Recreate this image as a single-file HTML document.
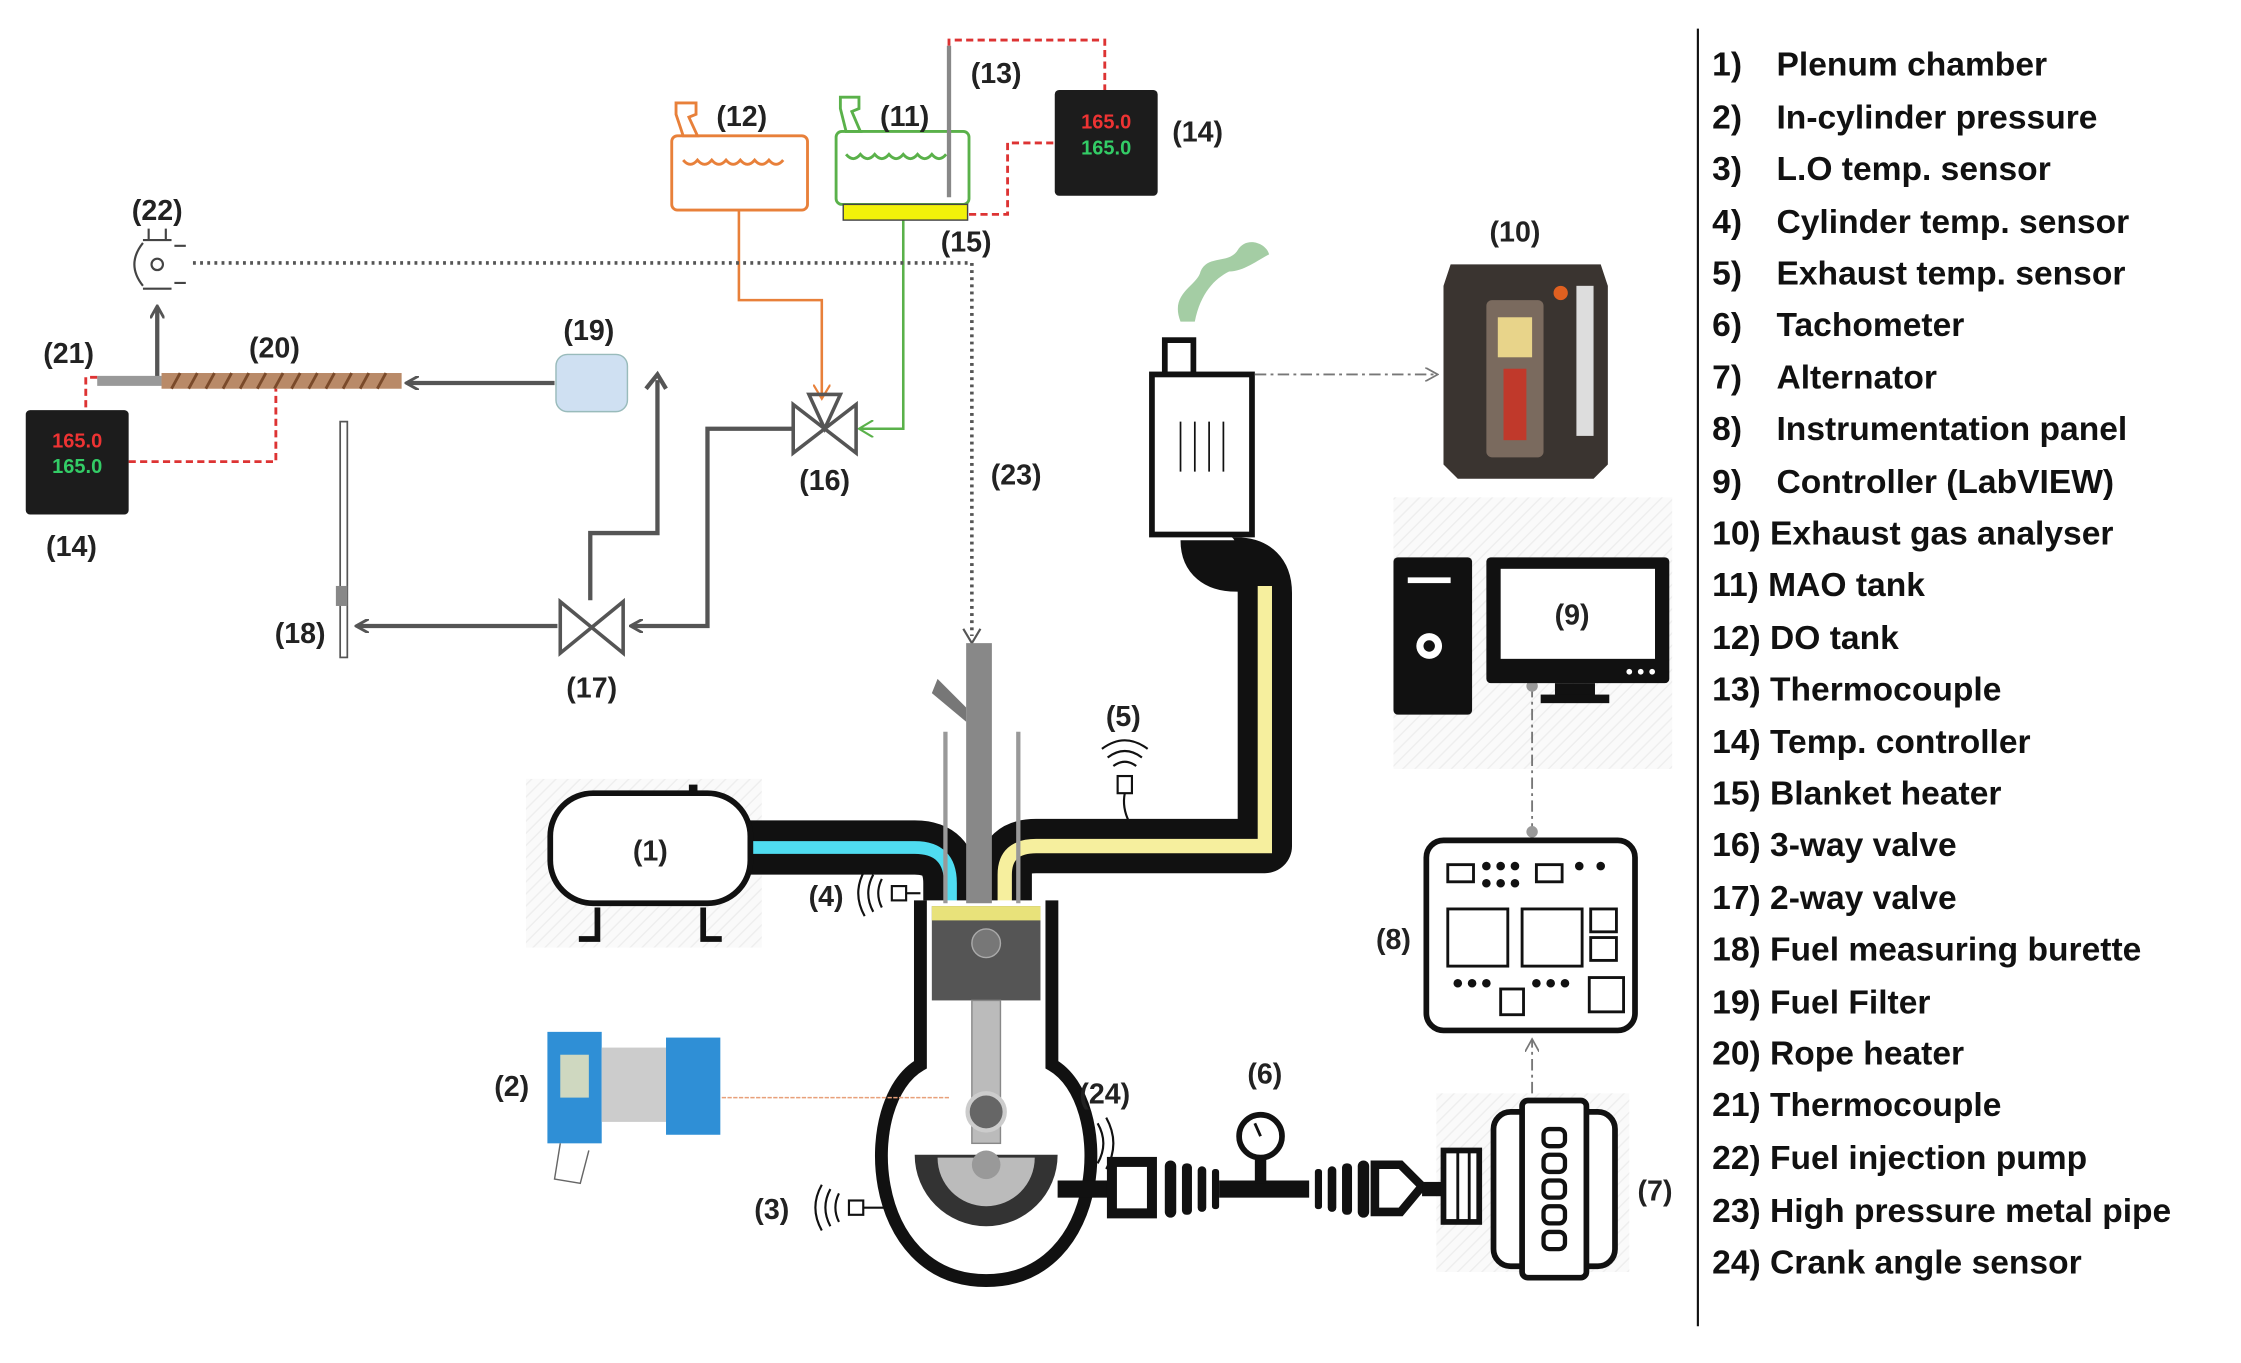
<!DOCTYPE html>
<html><head><meta charset="utf-8"><style>
html,body{margin:0;padding:0;background:#fff;}
svg{display:block;}
text{font-family:"Liberation Sans",sans-serif;}
</style></head><body>
<svg width="2241" height="1363" viewBox="0 0 1568 953.7" xmlns="http://www.w3.org/2000/svg">
<defs>
<marker id="ag" markerWidth="10" markerHeight="10" refX="8" refY="5" orient="auto" markerUnits="userSpaceOnUse"><path d="M0,0 L9,5 L0,10" fill="none" stroke="#555" stroke-width="2"/></marker>
<marker id="ao" markerWidth="12" markerHeight="12" refX="9" refY="6" orient="auto" markerUnits="userSpaceOnUse"><path d="M0,0 L10,6 L0,12" fill="none" stroke="#e8803a" stroke-width="1.5"/></marker>
<marker id="agr" markerWidth="12" markerHeight="12" refX="9" refY="6" orient="auto" markerUnits="userSpaceOnUse"><path d="M0,0 L10,6 L0,12" fill="none" stroke="#5ab14a" stroke-width="1.5"/></marker>
<marker id="ad" markerWidth="10" markerHeight="10" refX="8" refY="5" orient="auto" markerUnits="userSpaceOnUse"><path d="M0,0 L9,5 L0,10" fill="none" stroke="#777" stroke-width="1.2"/></marker>
<pattern id="hat" width="6" height="6" patternUnits="userSpaceOnUse" patternTransform="rotate(45)"><rect width="6" height="6" fill="#fafafa"/><line x1="0" y1="0" x2="0" y2="6" stroke="#eee" stroke-width="2"/></pattern>
</defs>

<rect x="368" y="545" width="165" height="118" fill="url(#hat)"/>
<rect x="975" y="348" width="195" height="190" fill="url(#hat)"/>
<rect x="1005" y="765" width="135" height="125" fill="url(#hat)"/>

<!-- legend -->
<line x1="1188" y1="20" x2="1188" y2="928" stroke="#111" stroke-width="1.5"/>
<g font-size="23.5" font-weight="bold" fill="#111">
<text x="1198" y="53">1)</text><text x="1243" y="53">Plenum chamber</text>
<text x="1198" y="90">2)</text><text x="1243" y="90">In-cylinder pressure</text>
<text x="1198" y="126">3)</text><text x="1243" y="126">L.O temp. sensor</text>
<text x="1198" y="163">4)</text><text x="1243" y="163">Cylinder temp. sensor</text>
<text x="1198" y="199">5)</text><text x="1243" y="199">Exhaust temp. sensor</text>
<text x="1198" y="235">6)</text><text x="1243" y="235">Tachometer</text>
<text x="1198" y="272">7)</text><text x="1243" y="272">Alternator</text>
<text x="1198" y="308">8)</text><text x="1243" y="308">Instrumentation panel</text>
<text x="1198" y="345">9)</text><text x="1243" y="345">Controller (LabVIEW)</text>
<text x="1198" y="381">10) Exhaust gas analyser</text>
<text x="1198" y="417">11) MAO tank</text>
<text x="1198" y="454">12) DO tank</text>
<text x="1198" y="490">13) Thermocouple</text>
<text x="1198" y="527">14) Temp. controller</text>
<text x="1198" y="563">15) Blanket heater</text>
<text x="1198" y="599">16) 3-way valve</text>
<text x="1198" y="636">17) 2-way valve</text>
<text x="1198" y="672">18) Fuel measuring burette</text>
<text x="1198" y="709">19) Fuel Filter</text>
<text x="1198" y="745">20) Rope heater</text>
<text x="1198" y="781">21) Thermocouple</text>
<text x="1198" y="818">22) Fuel injection pump</text>
<text x="1198" y="855">23) High pressure metal pipe</text>
<text x="1198" y="891">24) Crank angle sensor</text>
</g>

<!-- fuel lines -->
<g stroke="#555" stroke-width="3" fill="none">
<polyline points="555,300 495,300 495,438 442,438" marker-end="url(#ag)"/>
<polyline points="390,438 250,438" marker-end="url(#ag)"/>
<polyline points="413,420 413,373 460,373 460,266"/>
<path d="M452,272 L460,262 L466,272" />
<polyline points="388,268 285,268" marker-end="url(#ag)"/>
<polyline points="110,264 110,215" marker-end="url(#ag)"/>
</g>
<polyline points="517,147 517,210 575,210 575,278" stroke="#e8803a" stroke-width="1.8" fill="none" marker-end="url(#ao)"/>
<polyline points="632,154 632,300 602,300" stroke="#5ab14a" stroke-width="1.8" fill="none" marker-end="url(#agr)"/>
<g stroke="#555" stroke-width="2.5" fill="none">
<path d="M555,283 L555,317 L599,283 L599,317 Z"/>
<path d="M566,276 L588,276 L577,300 Z"/>
<path d="M392,421 L392,457 L436,421 L436,457 Z"/>
</g>
<polyline points="135,184 680,184 680,445" stroke="#555" stroke-width="2.5" stroke-dasharray="2,3" fill="none"/>
<path d="M674,440 L680,450 L686,440" stroke="#555" stroke-width="1.5" fill="none"/>
<g stroke="#444" stroke-width="1.5" fill="none">
<path d="M104,160 L104,168 M116,160 L116,168 M100,168 L120,168"/>
<path d="M100,170 Q88,185 100,200 M122,172 L130,172 M122,198 L130,198"/>
<circle cx="110" cy="185" r="4"/>
<path d="M100,202 L120,202"/>
</g>
<rect x="238" y="295" width="5" height="165" fill="#fff" stroke="#555" stroke-width="1.2"/>
<rect x="235" y="410" width="8" height="14" fill="#888"/>
<rect x="389" y="248" width="50" height="40" rx="8" fill="#cfe0f2" stroke="#9bb" stroke-width="1"/>
<rect x="68" y="263" width="45" height="7" fill="#999"/>
<rect x="113" y="261" width="168" height="11" fill="#b98a68"/>
<g stroke="#7a4a2a" stroke-width="2">
<path d="M120,272 l6,-11 M132,272 l6,-11 M144,272 l6,-11 M156,272 l6,-11 M168,272 l6,-11 M180,272 l6,-11 M192,272 l6,-11 M204,272 l6,-11 M216,272 l6,-11 M228,272 l6,-11 M240,272 l6,-11 M252,272 l6,-11 M264,272 l6,-11"/>
</g>
<g stroke="#d33" stroke-width="2" stroke-dasharray="5,3" fill="none">
<polyline points="68,264 60,264 60,287"/>
<polyline points="90,323 193,323 193,272"/>
<polyline points="664,32 664,28 773,28 773,63"/>
<polyline points="678,150 705,150 705,100 738,100"/>
</g>
<g>
<rect x="18" y="287" width="72" height="73" rx="3" fill="#1c1c1c"/>
<text x="54" y="313" font-size="14" fill="#e33" text-anchor="middle" font-weight="bold">165.0</text>
<text x="54" y="331" font-size="14" fill="#3c6" text-anchor="middle" font-weight="bold">165.0</text>
<rect x="738" y="63" width="72" height="74" rx="3" fill="#1c1c1c"/>
<text x="774" y="90" font-size="14" fill="#e33" text-anchor="middle" font-weight="bold">165.0</text>
<text x="774" y="108" font-size="14" fill="#3c6" text-anchor="middle" font-weight="bold">165.0</text>
</g>
<g fill="#fff" stroke-width="2">
<rect x="470" y="95" width="95" height="52" rx="4" stroke="#e8803a"/>
<path d="M473,72 L487,72 L487,80 L482,82 L488,95 L478,95 L473,80 Z" stroke="#e8803a"/>
<path d="M478,112 q5,6 10,0 q5,6 10,0 q5,6 10,0 q5,6 10,0 q5,6 10,0 q5,6 10,0 q5,6 10,0" stroke="#e8803a" fill="none"/>
<rect x="585" y="92" width="93" height="51" rx="4" stroke="#5ab14a"/>
<path d="M588,68 L601,68 L601,76 L596,78 L602,92 L592,92 L588,76 Z" stroke="#5ab14a"/>
<path d="M592,108 q5,6 10,0 q5,6 10,0 q5,6 10,0 q5,6 10,0 q5,6 10,0 q5,6 10,0 q5,6 10,0" stroke="#5ab14a" fill="none"/>
</g>
<rect x="590" y="143" width="87" height="11" fill="#f2f20a" stroke="#444" stroke-width="1"/>
<line x1="664" y1="32" x2="664" y2="138" stroke="#888" stroke-width="3"/>

<path d="M826,225 C818,205 838,200 840,190 C845,178 860,185 866,175 C872,165 886,170 888,178 C880,182 870,190 860,190 C850,195 840,205 836,225 Z" fill="#8dc08d" opacity="0.8"/>
<!-- exhaust pipe -->
<path d="M703,632 L703,612 Q703,592 725,592 L885,592 L885,415 Q885,395 865,395 Q845,395 845,378" stroke="#111" stroke-width="38" fill="none" stroke-linejoin="round"/>
<path d="M703,632 L703,612 Q703,592 725,592 L885,592 L885,410" stroke="#f6ef9e" stroke-width="10" fill="none"/>
<g fill="#fff" stroke="#111" stroke-width="4">
<rect x="815" y="238" width="20" height="24"/>
<rect x="806" y="262" width="70" height="112"/>
</g>
<g stroke="#111" stroke-width="1.2" fill="none">
<path d="M826,295 v35 M836,295 v35 M846,295 v35 M856,295 v35"/>
</g>
<!-- intake pipe -->
<path d="M520,593 L640,593 Q665,593 665,618 L665,632" stroke="#111" stroke-width="38" fill="none"/>
<path d="M522,593 L640,593 Q665,593 665,618 L665,632" stroke="#4fdcf0" stroke-width="9" fill="none"/>
<!-- plenum -->
<rect x="385" y="555" width="140" height="77" rx="30" fill="#fff" stroke="#111" stroke-width="4"/>
<rect x="482" y="549" width="6" height="7" fill="#111"/>
<path d="M418,635 V657 H405 M492,635 V657 H505" stroke="#111" stroke-width="4" fill="none"/>
<!-- engine -->
<path d="M644,630 L644,745 C600,770 605,896 690,896 C775,896 780,770 736,745 L736,630" fill="#fff" stroke="#111" stroke-width="9"/>
<rect x="652" y="634" width="76" height="66" fill="#555"/>
<rect x="652" y="634" width="76" height="10" fill="#e8e27a"/>
<rect x="680" y="700" width="20" height="100" fill="#bbb" stroke="#888"/>
<circle cx="690" cy="660" r="10" fill="#777" stroke="#aaa"/>
<circle cx="690" cy="778" r="13" fill="#666" stroke="#ccc" stroke-width="3"/>
<path d="M640,808 A50,50 0 0 0 740,808 Z" fill="#333"/>
<path d="M656,810 A34,34 0 0 0 724,810 Z" fill="#bbb"/>
<circle cx="690" cy="815" r="10" fill="#999"/>
<rect x="676" y="450" width="18" height="182" fill="#888"/>
<path d="M656,475 L676,495 L676,505 L652,485 Z" fill="#777"/>
<rect x="660" y="512" width="3" height="120" fill="#999"/>
<rect x="711" y="512" width="3" height="120" fill="#999"/>
<g stroke="#111" stroke-width="1.5" fill="none">
<rect x="624" y="620" width="10" height="10"/><line x1="634" y1="625" x2="644" y2="625"/>
<path d="M617,615 q-5,10 0,20 M611,612 q-7,13 0,26 M605,609 q-9,16 0,32"/>
<rect x="594" y="840" width="10" height="10"/><line x1="604" y1="845" x2="620" y2="845"/>
<path d="M587,835 q-5,10 0,20 M581,832 q-7,13 0,26 M575,829 q-9,16 0,32"/>
<rect x="782" y="543" width="10" height="12"/><path d="M787,555 q-2,10 3,20"/>
<path d="M779,536 q8,-6 16,0 M775,530 q12,-9 24,0 M771,524 q16,-12 32,0"/>
<path d="M762,790 q6,10 0,20 M768,786 q8,14 0,28 M774,782 q10,18 0,36"/>
</g>
<rect x="383" y="722" width="38" height="78" fill="#2f8fd6"/>
<rect x="421" y="733" width="65" height="52" fill="#ccc"/>
<rect x="466" y="726" width="38" height="68" fill="#2f8fd6"/>
<rect x="392" y="738" width="20" height="30" fill="#cfd8c0"/>
<path d="M392,800 L388,825 L406,828 L412,805" fill="none" stroke="#666"/>
<line x1="505" y1="768" x2="665" y2="768" stroke="#e8a07a" stroke-width="1" stroke-dasharray="3,1"/>
<g fill="#111">
<rect x="740" y="826" width="40" height="12"/>
<rect x="778" y="813" width="28" height="36" fill="#fff" stroke="#111" stroke-width="7"/>
<rect x="815" y="812" width="8" height="40" rx="4"/><rect x="827" y="814" width="7" height="36" rx="3"/><rect x="838" y="816" width="6" height="32" rx="3"/><rect x="848" y="818" width="5" height="28" rx="2"/>
<rect x="853" y="826" width="63" height="12"/>
<rect x="878" y="810" width="8" height="18"/>
<circle cx="882" cy="795" r="15" fill="#fff" stroke="#111" stroke-width="4"/>
<line x1="882" y1="795" x2="878" y2="786" stroke="#111" stroke-width="2"/>
<rect x="920" y="818" width="5" height="28" rx="2"/><rect x="929" y="816" width="6" height="32" rx="3"/><rect x="939" y="814" width="7" height="36" rx="3"/><rect x="950" y="812" width="8" height="40" rx="4"/>
<path d="M962,815 L980,815 L995,830 L980,848 L962,848 Z" fill="#fff" stroke="#111" stroke-width="6"/>
<rect x="995" y="827" width="15" height="10"/>
</g>
<g fill="#fff" stroke="#111" stroke-width="4">
<rect x="1010" y="805" width="25" height="50"/>
<path d="M1020,805 v50 M1028,805 v50" stroke-width="2"/>
<rect x="1045" y="778" width="85" height="108" rx="12"/>
<rect x="1065" y="770" width="45" height="124" rx="4"/>
<rect x="1080" y="790" width="15" height="12" rx="4" stroke-width="3"/>
<rect x="1080" y="808" width="15" height="12" rx="4" stroke-width="3"/>
<rect x="1080" y="826" width="15" height="12" rx="4" stroke-width="3"/>
<rect x="1080" y="844" width="15" height="12" rx="4" stroke-width="3"/>
<rect x="1080" y="862" width="15" height="12" rx="4" stroke-width="3"/>
</g>
<g stroke="#777" stroke-width="1.3" fill="none" stroke-dasharray="8,3,2,3">
<line x1="878" y1="262" x2="1005" y2="262" marker-end="url(#ad)"/>
<line x1="1072" y1="480" x2="1072" y2="582"/>
<line x1="1072" y1="765" x2="1072" y2="728" marker-end="url(#ad)"/>
</g>
<circle cx="1072" cy="480" r="4" fill="#999"/>
<circle cx="1072" cy="582" r="4" fill="#999"/>
<rect x="998" y="588" width="146" height="133" rx="12" fill="#fff" stroke="#111" stroke-width="4"/>
<g fill="#fff" stroke="#111" stroke-width="2">
<rect x="1013" y="605" width="18" height="12"/><rect x="1075" y="605" width="18" height="12"/>
<rect x="1013" y="636" width="42" height="40"/><rect x="1065" y="636" width="42" height="40"/>
<rect x="1113" y="636" width="18" height="16"/><rect x="1113" y="656" width="18" height="16"/>
<rect x="1112" y="684" width="24" height="24"/><rect x="1050" y="692" width="16" height="18"/>
</g>
<g fill="#111">
<circle cx="1040" cy="606" r="3"/><circle cx="1050" cy="606" r="3"/><circle cx="1060" cy="606" r="3"/>
<circle cx="1040" cy="618" r="3"/><circle cx="1050" cy="618" r="3"/><circle cx="1060" cy="618" r="3"/>
<circle cx="1105" cy="606" r="3"/><circle cx="1120" cy="606" r="3"/>
<circle cx="1020" cy="688" r="3"/><circle cx="1030" cy="688" r="3"/><circle cx="1040" cy="688" r="3"/>
<circle cx="1075" cy="688" r="3"/><circle cx="1085" cy="688" r="3"/><circle cx="1095" cy="688" r="3"/>
</g>
<rect x="975" y="390" width="55" height="110" rx="3" fill="#111"/>
<rect x="985" y="404" width="30" height="4" fill="#fff"/>
<circle cx="1000" cy="452" r="9" fill="#fff"/><circle cx="1000" cy="452" r="4" fill="#111"/>
<rect x="1040" y="390" width="128" height="88" rx="3" fill="#111"/>
<rect x="1050" y="398" width="108" height="63" fill="#fff"/>
<circle cx="1140" cy="470" r="2" fill="#fff"/><circle cx="1148" cy="470" r="2" fill="#fff"/><circle cx="1156" cy="470" r="2" fill="#fff"/>
<rect x="1088" y="478" width="28" height="10" fill="#111"/>
<rect x="1078" y="486" width="48" height="6" fill="#111"/>
<path d="M1015,185 L1120,185 L1125,200 L1125,325 L1115,335 L1020,335 L1010,325 L1010,200 Z" fill="#3a3430"/>
<rect x="1040" y="210" width="40" height="110" rx="4" fill="#7a6a5e"/>
<rect x="1048" y="222" width="24" height="28" fill="#e8d48a"/>
<rect x="1052" y="258" width="16" height="50" fill="#c0392b"/>
<rect x="1103" y="200" width="12" height="105" fill="#ddd"/>
<circle cx="1092" cy="205" r="5" fill="#e06020"/>

<!-- labels (on top) -->
<g font-size="20" font-weight="bold" fill="#222" text-anchor="middle">
<text x="455" y="602">(1)</text>
<text x="358" y="767">(2)</text>
<text x="540" y="853">(3)</text>
<text x="578" y="634">(4)</text>
<text x="786" y="508">(5)</text>
<text x="885" y="758">(6)</text>
<text x="1158" y="840">(7)</text>
<text x="975" y="664">(8)</text>
<text x="1100" y="437">(9)</text>
<text x="1060" y="169">(10)</text>
<text x="633" y="88">(11)</text>
<text x="519" y="88">(12)</text>
<text x="697" y="58">(13)</text>
<text x="838" y="99">(14)</text>
<text x="50" y="389">(14)</text>
<text x="676" y="176">(15)</text>
<text x="577" y="343">(16)</text>
<text x="414" y="488">(17)</text>
<text x="210" y="450">(18)</text>
<text x="412" y="238">(19)</text>
<text x="192" y="250">(20)</text>
<text x="48" y="254">(21)</text>
<text x="110" y="154">(22)</text>
<text x="711" y="339">(23)</text>
<text x="773" y="772">(24)</text>
</g>
</svg>
</body></html>
